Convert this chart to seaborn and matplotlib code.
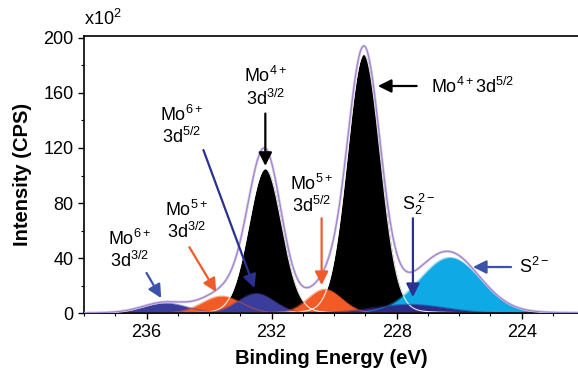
import numpy as np
import pandas as pd
import matplotlib
matplotlib.use("Agg")
import matplotlib.pyplot as plt
import seaborn as sns

# fitted components (intensity in units of 10^2 CPS)
names = ["Mo4+ 3d3/2", "Mo4+ 3d5/2", "Mo6+ 3d3/2", "Mo5+ 3d3/2",
         "Mo6+ 3d5/2", "Mo5+ 3d5/2", "S2-", "S2 2-"]
centers = [232.2, 229.05, 235.4, 233.6, 232.5, 230.3, 226.3, 227.6]
heights = [105, 188, 7.5, 12.5, 14.5, 17.5, 40.5, 6.5]
fwhms = [1.25, 1.25, 1.7, 1.5, 1.4, 1.3, 2.3, 2.8]
colors = ["black", "black", "#3a3d9c", "#f25a26", "#3a3d9c", "#f25a26",
          "#0fa9e6", "#2d2b88"]

x_ticks = [236, 232, 228, 224]
y_ticks = [0, 40, 80, 120, 160, 200]

sns.set_style("ticks", {"axes.edgecolor": "black", "text.color": "black",
                        "axes.labelcolor": "black", "xtick.color": "black",
                        "ytick.color": "black"})
plt.rcParams["font.family"] = ["Liberation Sans", "DejaVu Sans"]
plt.rcParams["mathtext.fontset"] = "custom"
plt.rcParams["mathtext.rm"] = "Liberation Sans"
plt.rcParams["mathtext.it"] = "Liberation Sans:italic"
plt.rcParams["mathtext.bf"] = "Liberation Sans:bold"


def peak(e, c, h, w, frac=0.07):
    g = np.exp(-4 * np.log(2) * ((e - c) / w) ** 2)
    lor = 1 / (1 + 4 * ((e - c) / w) ** 2)
    return h * ((1 - frac) * g + frac * lor)


energy = np.linspace(238, 222.2, 1200)
comps = {n: peak(energy, c, h, w) for n, c, h, w in zip(names, centers, heights, fwhms)}
df = pd.DataFrame(comps)
df["energy"] = energy
df["envelope"] = df[names].sum(axis=1)

fig = plt.figure(figsize=(5.78, 3.70), dpi=100)
ax = fig.add_axes([0.1453, 0.1532, 0.8547, 0.7503])

for n, col in zip(names, colors):
    edge = "white" if col == "black" else col
    ax.fill_between(df["energy"], 0, df[n], color=col, lw=0, zorder=2)
    ax.plot(df["energy"], df[n], color=edge, lw=0.8, zorder=2.5,
            alpha=0.9 if col == "black" else 0.5)

sns.lineplot(data=df, x="energy", y="envelope", ax=ax, color="#d3bce4", lw=1.8, zorder=3)
sns.lineplot(data=df, x="energy", y="envelope", ax=ax, color="#9484c8", lw=0.7, zorder=3.5)
ax.axhline(0.3, color="#d04a9a", lw=0.8, zorder=3)

ax.set_xlim(238, 222.2)
ax.set_ylim(0, 201.5)
ax.set_xticks(x_ticks)
ax.set_xticks(np.arange(238, 222, -1), minor=True)
ax.set_yticks(y_ticks)
ax.set_yticks(np.arange(0, 201, 20), minor=True)
ax.tick_params(axis="both", which="major", labelsize=13, length=4, width=1, direction="out")
ax.tick_params(axis="both", which="minor", length=2.5, width=0.8, direction="out")
ax.spines["right"].set_visible(False)
for s in ["left", "bottom", "top"]:
    ax.spines[s].set_linewidth(1.2)
ax.set_xlabel("Binding Energy (eV)", fontsize=14.5, fontweight="bold", labelpad=6)
ax.set_ylabel("Intensity (CPS)", fontsize=14.5, fontweight="bold", labelpad=8)
ax.text(0.0, 1.025, r"x10$^{2}$", transform=ax.transAxes, fontsize=13, ha="left", va="bottom")

navy = "#2b3190"
blue = "#3a52aa"
orange = "#f15a29"

labels = [
    (r"$\mathregular{Mo^{4+}3d^{5/2}}$", (226.9, 164), "left", (227.36, 165), (228.6, 165), "black"),
    ("$\\mathregular{Mo^{4+}}$\n$\\mathregular{3d^{3/2}}$", (232.2, 164), "center", (232.2, 145), (232.2, 107), "black"),
    ("$\\mathregular{Mo^{6+}}$\n$\\mathregular{3d^{5/2}}$", (234.88, 136), "center", (234.18, 118.5), (232.55, 18.4), navy),
    ("$\\mathregular{Mo^{6+}}$\n$\\mathregular{3d^{3/2}}$", (236.55, 46), "center", (236.0, 29.3), (235.53, 11), blue),
    ("$\\mathregular{Mo^{5+}}$\n$\\mathregular{3d^{3/2}}$", (234.72, 67), "center", (234.63, 48), (233.77, 15.5), orange),
    ("$\\mathregular{Mo^{5+}}$\n$\\mathregular{3d^{5/2}}$", (230.72, 86), "center", (230.4, 69), (230.4, 20.5), orange),
    (r"$\mathregular{S_2^{\ 2-}}$", (227.3, 79), "center", (227.48, 69), (227.48, 11.8), navy),
    (r"$\mathregular{S^{2-}}$", (224.1, 33.6), "left", (224.34, 33.6), (225.56, 33.6), blue),
]
for txt, pos, ha, start, tip, col in labels:
    ax.text(pos[0], pos[1], txt, fontsize=13, ha=ha, va="center", linespacing=1.15,
            color="black", zorder=5)
    ax.annotate("", xy=tip, xytext=start, zorder=5,
                arrowprops=dict(arrowstyle="-|>", color=col, lw=1.6, mutation_scale=20,
                                shrinkA=0, shrinkB=0))

fig.savefig("out.png", dpi=100)
